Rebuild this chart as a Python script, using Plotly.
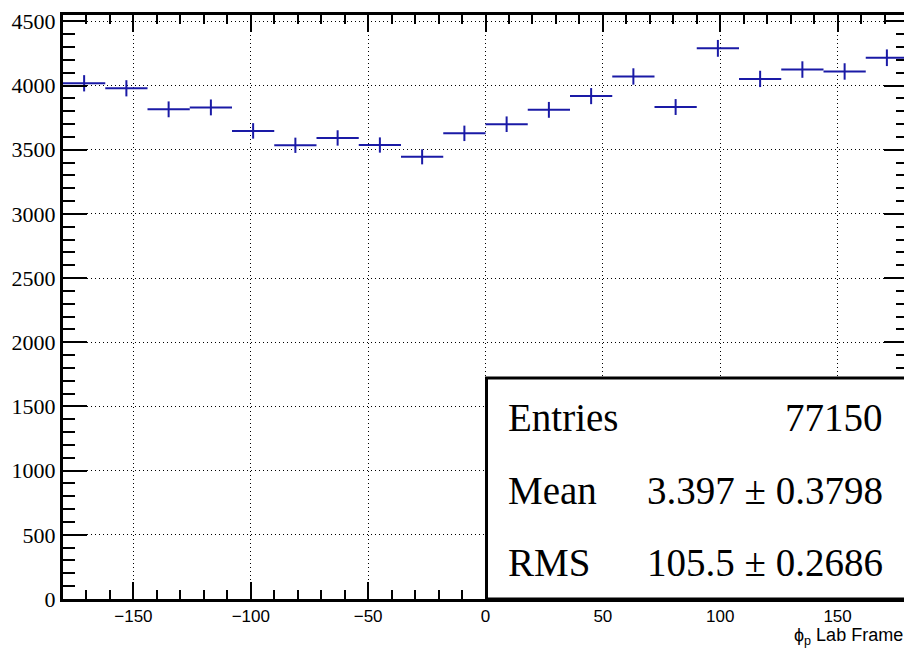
import numpy as np
import plotly.graph_objects as go

# Histogram of phi_p (lab frame): 20 bins from -180 to 180
bin_centers = [-171, -153, -135, -117, -99, -81, -63, -45, -27, -9,
               9, 27, 45, 63, 81, 99, 117, 135, 153, 171]
counts = [4018, 3979, 3815, 3830, 3647, 3535, 3592, 3537, 3445, 3628,
          3699, 3811, 3918, 4071, 3833, 4290, 4052, 4125, 4110, 4217]
bin_width = 18

stat_names = ["Entries", "Mean", "RMS"]
stat_values = ["77150", "3.397 ± 0.3798", "105.5 ± 0.2686"]

x_tick_vals = [-150, -100, -50, 0, 50, 100, 150]
y_tick_vals = [0, 500, 1000, 1500, 2000, 2500, 3000, 3500, 4000, 4500]

color = "#1a1aa6"
OFF = 8  # page body margin
W, H = 912 - OFF, 652 - OFF
ml, mr, mt, mb = 63 - OFF, 1, 15 - OFF, 53
plot_h = H - mt - mb
plot_w = W - ml - mr

fig = go.Figure()
fig.add_trace(go.Scatter(
    x=bin_centers, y=counts, mode="markers",
    marker=dict(size=1, color=color),
    error_y=dict(type="data", array=list(np.sqrt(counts)), thickness=2, width=0, color=color),
    error_x=dict(type="data", array=[bin_width / 2] * len(bin_centers), thickness=2, width=0, color=color),
    showlegend=False, hoverinfo="skip",
))

def px_x(px):
    return (px - OFF - ml) / plot_w

def px_y(py):
    return (H - mb - (py - OFF)) / plot_h

shapes = [dict(type="rect", xref="paper", yref="paper",
               x0=px_x(488), x1=1.0, y0=0.0, y1=px_y(378),
               line=dict(color="black", width=3), fillcolor="white", layer="above")]

annotations = []
row_y = [418, 490, 562]
for name, val, ry in zip(stat_names, stat_values, row_y):
    annotations.append(dict(xref="paper", yref="paper", x=px_x(508), y=px_y(ry),
                            text=name, showarrow=False, xanchor="left", yanchor="middle",
                            font=dict(family="Liberation Serif", size=39, color="black")))
    annotations.append(dict(xref="paper", yref="paper", x=px_x(888), y=px_y(ry),
                            text=val, showarrow=False, xanchor="right", yanchor="middle",
                            font=dict(family="Liberation Serif", size=39, color="black")))

annotations.append(dict(xref="paper", yref="paper", x=px_x(908), y=px_y(623),
                        text="ϕ<sub>p</sub> Lab Frame", showarrow=False,
                        xanchor="right", yanchor="top",
                        font=dict(family="Liberation Sans", size=18, color="black")))

fig.update_layout(
    width=W, height=H,
    margin=dict(l=ml, r=mr, t=mt, b=mb, pad=0),
    paper_bgcolor="white", plot_bgcolor="white",
    shapes=shapes, annotations=annotations,
    xaxis=dict(
        range=[-180, 180], tickvals=x_tick_vals,
        ticks="inside", ticklen=17, tickwidth=2, tickcolor="black",
        showline=True, linewidth=3, linecolor="black", mirror="allticks",
        showgrid=True, gridcolor="black", gridwidth=1, griddash="1px,3px",
        zeroline=False,
        tickfont=dict(family="Liberation Sans", size=17, color="black"),
        minor=dict(dtick=10, tick0=0, ticks="inside", ticklen=9, tickwidth=2,
                   tickcolor="black", showgrid=False),
    ),
    yaxis=dict(
        range=[0, 4550], tickvals=y_tick_vals,
        ticks="inside", ticklen=24, tickwidth=2, tickcolor="black",
        showline=True, linewidth=3, linecolor="black", mirror="allticks",
        showgrid=True, gridcolor="black", gridwidth=1, griddash="1px,3px",
        zeroline=False,
        tickfont=dict(family="Liberation Serif", size=22, color="black"),
        minor=dict(dtick=100, tick0=0, ticks="inside", ticklen=12, tickwidth=2,
                   tickcolor="black", showgrid=False),
    ),
)

fig.write_html("out.html")
